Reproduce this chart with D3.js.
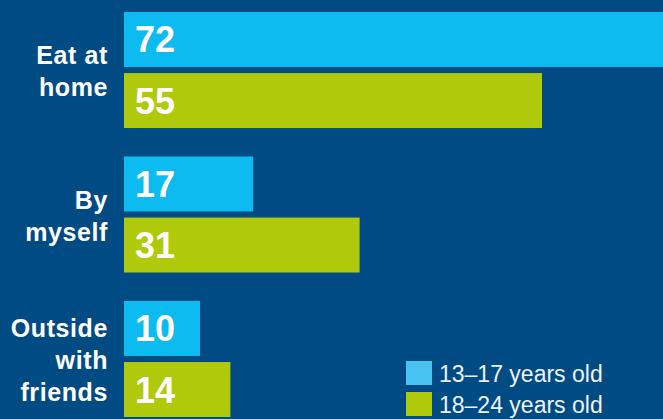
<!DOCTYPE html>
<head>
    <meta charset="utf-8">
    <script src="https://d3js.org/d3.v7.min.js"></script>
    <style>
        html, body { margin: 0; padding: 0; background: #014b85; overflow: hidden; }
        .canvas text { font-family: "Liberation Sans", Arial, sans-serif; fill: #fff; }
        .canvas g.cat text { font-weight: bold; font-size: 25px; text-anchor: end; letter-spacing: 0.6px; }
        .canvas g.bars text { font-weight: bold; font-size: 36px; }
        .canvas g.legend text { font-size: 23px; fill: #eef3f8; }
    </style>
</head>
<body>
<div id="chart"></div>
<script>
    // dados ----------------------------------------------------------
    var categories = [["Eat at", "home"], ["By", "myself"], ["Outside", "with", "friends"]];
    var series = ["13\u201317 years old", "18\u201324 years old"];
    var teens = [72, 17, 10];
    var adults = [55, 31, 14];
    var barColors = ["#0cbbef", "#b1c90b"];
    var legendColors = ["#48c3f2", "#b1c90b"];

    var width = 663, height = 419;

    var svg = d3.select("#chart")
        .append("svg")
        .attr("class", "canvas")
        .attr("width", width)
        .attr("height", height);

    svg.append("rect").attr("width", width).attr("height", height).attr("fill", "#014b85");

    var keys = categories.map(function(c) { return c.join(" "); });

    // escalas
    var x = d3.scaleLinear().domain([0, 55]).range([124, 542]);

    var y0 = d3.scaleBand()
        .domain(keys)
        .range([12, 417])
        .paddingInner(0.197)
        .paddingOuter(0);

    var y1 = d3.scaleBand()
        .domain(series)
        .range([0, y0.bandwidth()])
        .paddingInner(0.1)
        .paddingOuter(0);

    var rows = keys.map(function(k, i) {
        return { key: k, lines: categories[i], values: [teens[i], adults[i]] };
    });

    // barras -----------------------------------------------------------
    var bars = svg.append("g").attr("class", "bars");

    var grp = bars.selectAll("g")
        .data(rows)
        .enter()
        .append("g")
        .attr("transform", function(d) { return "translate(0," + y0(d.key) + ")"; });

    var cell = grp.selectAll("g")
        .data(function(d) { return d.values.map(function(v, j) { return { s: series[j], v: v, j: j }; }); })
        .enter()
        .append("g");

    cell.append("rect")
        .attr("x", x(0))
        .attr("y", function(d) { return y1(d.s); })
        .attr("width", function(d) { return x(d.v) - x(0); })
        .attr("height", y1.bandwidth())
        .attr("fill", function(d) { return barColors[d.j]; });

    cell.append("text")
        .attr("x", x(0) + 11)
        .attr("y", function(d) { return y1(d.s) + y1.bandwidth() / 2 + 13; })
        .text(function(d) { return d.v; });

    // rotulos das categorias -----------------------------------------
    var cat = svg.append("g").attr("class", "cat");

    cat.selectAll("text")
        .data(rows)
        .enter()
        .append("text")
        .attr("x", 108)
        .attr("y", function(d) { return y0(d.key) + y0.bandwidth() / 2 + 10; })
        .each(function(d) {
            var t = d3.select(this);
            var n = d.lines.length;
            d.lines.forEach(function(l, i) {
                t.append("tspan")
                    .attr("x", 108)
                    .attr("dy", i === 0 ? (-(n - 1) / 2 * 32) : 32)
                    .text(l);
            });
        });

    // legenda ----------------------------------------------------------
    var leg = svg.append("g").attr("class", "legend")
        .attr("transform", "translate(406,361)");

    var li = leg.selectAll("g")
        .data(series)
        .enter()
        .append("g")
        .attr("transform", function(d, i) { return "translate(0," + (i * 31) + ")"; });

    li.append("rect")
        .attr("width", 26)
        .attr("height", 24)
        .attr("fill", function(d, i) { return legendColors[i]; });

    li.append("text")
        .attr("x", 33)
        .attr("y", 21)
        .text(function(d) { return d; });
</script>
</body>
